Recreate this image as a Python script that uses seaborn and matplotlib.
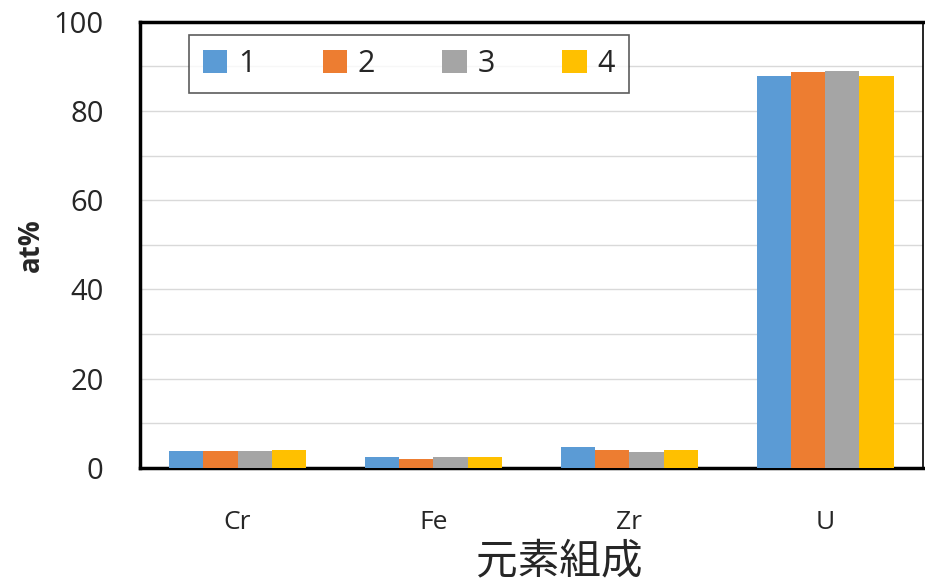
import pandas as pd
import matplotlib
matplotlib.use("Agg")
import matplotlib.pyplot as plt
import seaborn as sns
import numpy as np

# --- dados ---
elements = ['Cr', 'Fe', 'Zr', 'U']
series = ['1', '2', '3', '4']
s1 = [3.7, 2.5, 4.6, 87.9]
s2 = [3.7, 2.0, 4.0, 88.7]
s3 = [3.7, 2.5, 3.6, 88.9]
s4 = [4.0, 2.5, 4.0, 87.9]
colors = ['#5B9BD5', '#ED7D31', '#A5A5A5', '#FFC000']

df = pd.DataFrame({'element': elements, '1': s1, '2': s2, '3': s3, '4': s4})
df_melt = df.melt(id_vars='element', value_vars=series, var_name='serie', value_name='at')

sns.set_style("white")
plt.rcParams['font.family'] = ['Open Sans', 'Noto Sans CJK JP', 'DejaVu Sans']

fig = plt.figure(figsize=(9.25, 5.87), dpi=100)
ax = fig.add_axes([0.151, 0.203, 0.847, 0.760])

sns.barplot(data=df_melt, x='element', y='at', hue='serie', palette=colors,
            width=0.70, gap=0, saturation=1, linewidth=0, ax=ax, zorder=3)

ax.set_ylim(0, 100)
ax.set_xlim(-0.5, 3.5)
ax.set_yticks(np.arange(0, 101, 20))
ax.set_yticks(np.arange(10, 100, 20), minor=True)
ax.yaxis.grid(True, which='both', color='#d9d9d9', linewidth=1, zorder=0)
ax.set_axisbelow(True)
ax.tick_params(axis='y', which='major', direction='in', length=6, width=2, labelsize=21, pad=26)
ax.tick_params(axis='y', which='minor', length=0)

ax.set_xticks([0.5, 1.5, 2.5], minor=True)
ax.tick_params(axis='x', which='minor', direction='in', length=7, width=2.5)
ax.tick_params(axis='x', which='major', length=0, labelsize=19, pad=30)

for side in ['left', 'bottom', 'top']:
    ax.spines[side].set_linewidth(2.5)
    ax.spines[side].set_color('black')
ax.spines['right'].set_linewidth(1.2)
ax.spines['right'].set_color('black')

ax.set_ylabel('at%', fontsize=20, fontweight='bold')
ax.yaxis.set_label_coords(-0.12, 0.5)
ax.set_xlabel('元素組成', fontsize=30, family=['Noto Sans CJK JP', 'DejaVu Sans'])
ax.xaxis.set_label_coords(0.535, -0.165)

leg = ax.legend(loc='upper left', bbox_to_anchor=(0.063, 0.97), ncol=4, fontsize=22,
                frameon=True, fancybox=False, edgecolor='#333333',
                handlelength=0.8, handleheight=0.8, handletextpad=0.35,
                columnspacing=2.2, borderpad=0.45, borderaxespad=0)
leg.get_frame().set_linewidth(1.2)
leg.set_title(None)

plt.savefig('out.png', dpi=100)
plt.close()
